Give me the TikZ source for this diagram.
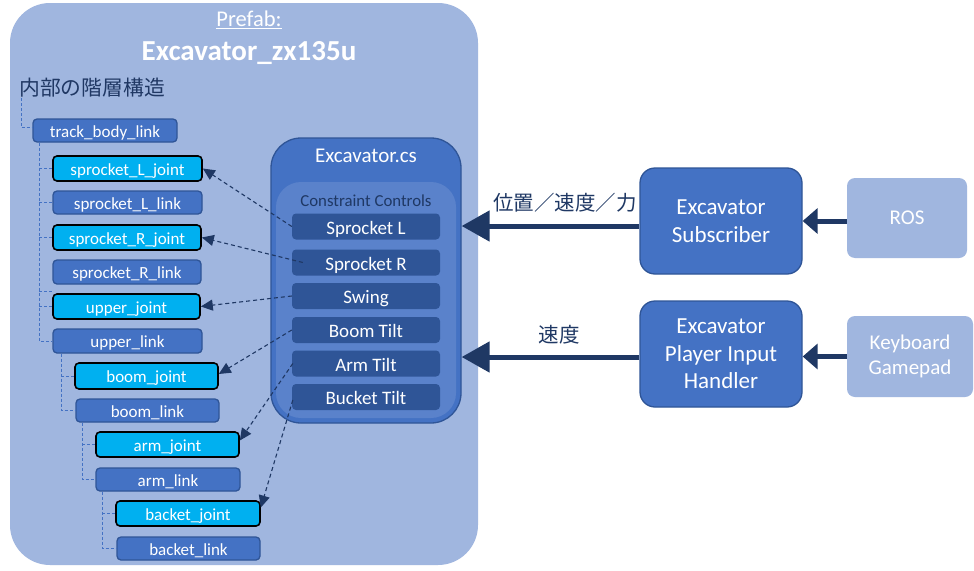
\documentclass[tikz,border=0pt]{standalone}
\usepackage{fontspec}
\setmainfont{Carlito}
\newfontfamily\jpfont{Noto Sans CJK JP}
\usetikzlibrary{arrows.meta,calc}
\definecolor{prefabbg}{HTML}{A0B6DF}
\definecolor{accent}{HTML}{4472C4}
\definecolor{accentdark}{HTML}{2F5597}
\definecolor{innerbg}{HTML}{5A82CB}
\definecolor{navy}{HTML}{1F3864}
\definecolor{jointcyan}{HTML}{00B0F0}
\definecolor{jptext}{HTML}{203864}
\tikzset{
  linkbox/.style={draw=accentdark, line width=1.3pt, fill=accent, rounded corners=4pt, text=white, font=\fontsize{17}{19}\selectfont, text height=13pt, text depth=0pt, inner sep=0pt},
  jointbox/.style={draw=black, line width=1.6pt, fill=jointcyan, rounded corners=4pt, text=white, font=\fontsize{17}{19}\selectfont, text height=13pt, text depth=0pt, inner sep=0pt},
  ctrlbox/.style={fill=accentdark, rounded corners=4pt, text=white, font=\fontsize{19}{21}\selectfont, text height=15pt, text depth=0pt, inner sep=0pt, minimum width=148pt, minimum height=26pt},
  bigbox/.style={draw=accentdark, line width=1.3pt, fill=accent, rounded corners=15pt, text=white, align=center, font=\fontsize{23}{27.5}\selectfont, minimum width=162pt, minimum height=106pt, inner sep=0pt},
  srcbox/.style={fill=prefabbg, rounded corners=8pt, text=white, align=center, font=\fontsize{21}{25}\selectfont, inner sep=0pt},
  treeline/.style={accent, dashed, dash pattern=on 3pt off 2pt, line width=0.9pt},
  ctrlarrow/.style={navy, line width=1.1pt, dash pattern=on 4pt off 3pt, -{Triangle[length=12pt,width=11pt]}},
  flowbig/.style={navy, line width=5pt, -{Triangle[length=28pt,width=30pt]}},
  flowsmall/.style={navy, line width=5pt, -{Triangle[length=15pt,width=25pt]}},
}
\begin{document}
\begin{tikzpicture}[x=1pt,y=-1pt]
\useasboundingbox (0,0) rectangle (974,570);
\fill[white] (0,0) rectangle (974,570);
% prefab container
\fill[prefabbg, rounded corners=40pt] (10,3) rectangle (478,565);
\node[text=white, font=\fontsize{22.5}{26}\selectfont, inner sep=0pt] (pfl) at (249,20) {\underline{Prefab:}};
\node[text=white, font=\bfseries\fontsize{29}{33}\selectfont, inner sep=0pt] (pft) at (249,53) {Excavator\_zx135u};
\node[anchor=west, text=jptext, font=\jpfont\fontsize{20.8}{24}\selectfont, inner sep=0pt] (jp) at (19,88) {内部の階層構造};

% hierarchy boxes
\node[linkbox, minimum width=144pt, minimum height=23pt] (tbl) at (105,130.5) {track\_body\_link};
\node[jointbox, minimum width=149pt, minimum height=25pt] (slj) at (127.5,168.5) {sprocket\_L\_joint};
\node[linkbox, minimum width=149pt, minimum height=23pt] (sll) at (127.5,202.5) {sprocket\_L\_link};
\node[jointbox, minimum width=148pt, minimum height=25pt] (srj) at (127,237.5) {sprocket\_R\_joint};
\node[linkbox, minimum width=148pt, minimum height=24pt] (srl) at (127,272) {sprocket\_R\_link};
\node[jointbox, minimum width=147pt, minimum height=25pt] (uj) at (126.5,306.5) {upper\_joint};
\node[linkbox, minimum width=149pt, minimum height=24pt] (ul) at (127.5,341) {upper\_link};
\node[jointbox, minimum width=143pt, minimum height=26pt] (bj) at (146.5,376) {boom\_joint};
\node[linkbox, minimum width=143pt, minimum height=23pt] (bl) at (147.5,410.5) {boom\_link};
\node[jointbox, minimum width=143pt, minimum height=25pt] (aj) at (167.5,444.5) {arm\_joint};
\node[linkbox, minimum width=144pt, minimum height=23pt] (al) at (168,479.5) {arm\_link};
\node[jointbox, minimum width=144pt, minimum height=25pt] (bkj) at (188,513.5) {backet\_joint};
\node[linkbox, minimum width=143pt, minimum height=23pt] (bkl) at (188.5,548.5) {backet\_link};

% hierarchy lines
\coordinate (v0) at (21,98);
\draw[treeline] (v0) |- ([yshift=3pt]tbl.west);
\coordinate (v1) at ([xshift=7pt]tbl.south west);
\coordinate (d1) at (53,291);
\draw[treeline] (v1) |- (ul.west);
\draw[treeline] (v1 |- slj.west) -- (slj.west);
\draw[treeline] (v1 |- sll.west) -- (sll.west);
\draw[treeline] (v1 |- srj.west) -- (srj.west);
\draw[treeline] (v1 |- d1) -- (d1);
\draw[treeline] (v1 |- uj.west) -- (uj.west);
\coordinate (v2) at ([xshift=9pt]ul.south west);
\draw[treeline] (v2) |- (bl.west);
\draw[treeline] (v2 |- bj.west) -- (bj.west);
\coordinate (v3) at ([xshift=7pt]bl.south west);
\draw[treeline] (v3) |- (al.west);
\draw[treeline] (v3 |- aj.west) -- (aj.west);
\coordinate (v4) at ([xshift=7pt]al.south west);
\draw[treeline] (v4) |- (bkl.west);
\draw[treeline] (v4 |- bkj.west) -- (bkj.west);

% Excavator.cs
\node[draw=accentdark, line width=1.3pt, fill=accent, rounded corners=30pt, minimum width=190pt, minimum height=285pt, inner sep=0pt] (exc) at (366,280.5) {};
\node[text=white, font=\fontsize{21}{25}\selectfont, inner sep=0pt] (exct) at (366,156) {Excavator.cs};
\node[fill=innerbg, rounded corners=25pt, minimum width=180pt, minimum height=236pt, inner sep=0pt] (cc) at (366,300) {};
\node[text=navy, font=\fontsize{16.8}{20}\selectfont, inner sep=0pt] (cct) at (366,201) {Constraint Controls};
\node[ctrlbox] (sl) at (366,226.5) {Sprocket L};
\node[ctrlbox] (sr) at (366,262.5) {Sprocket R};
\node[ctrlbox] (sw) at (366,296) {Swing};
\node[ctrlbox] (bt) at (366,330) {Boom Tilt};
\node[ctrlbox] (at) at (366,363.5) {Arm Tilt};
\node[ctrlbox] (bkt) at (366,397) {Bucket Tilt};

% control arrows
\draw[ctrlarrow] (sl.west) -- (slj.east);
\draw[ctrlarrow] ([xshift=11pt]sr.west) -- (srj.east);
\draw[ctrlarrow] (sw.west) -- (uj.east);
\draw[ctrlarrow] (bt.west) -- ([yshift=2pt]bj.east);
\draw[ctrlarrow] ([xshift=1pt]at.west) -- ([yshift=4pt]aj.east);
\draw[ctrlarrow] ([xshift=1pt,yshift=-3pt]bkt.west) -- ([yshift=6pt]bkj.east);

% right side
\node[bigbox] (sub) at (721,221) {Excavator\\Subscriber};
\node[bigbox] (hd) at (721,354) {Excavator\\Player Input\\Handler};
\node[srcbox, minimum width=120pt, minimum height=80pt] (ros) at (907,218) {ROS};
\node[srcbox, minimum width=126pt, minimum height=81pt] (kb) at (910,356.5) {Keyboard\\Gamepad};

\draw[flowsmall] (ros.west |- sub.east) -- (sub.east);
\draw[flowsmall] (kb.west) -- (kb.west -| hd.east);
\draw[flowbig] ([yshift=-5pt]sub.west) -- ([yshift=-5pt]sub.west -| exc.east);
\draw[flowbig] ([yshift=-3pt]hd.west) -- ([yshift=-3pt]hd.west -| exc.east);
\node[text=navy, font=\jpfont\fontsize{20.5}{24}\selectfont, inner sep=0pt] (lab1) at (565,203) {位置／速度／力};
\node[text=navy, font=\jpfont\fontsize{20.5}{24}\selectfont, inner sep=0pt] (lab2) at (559,335) {速度};
\end{tikzpicture}
\end{document}
